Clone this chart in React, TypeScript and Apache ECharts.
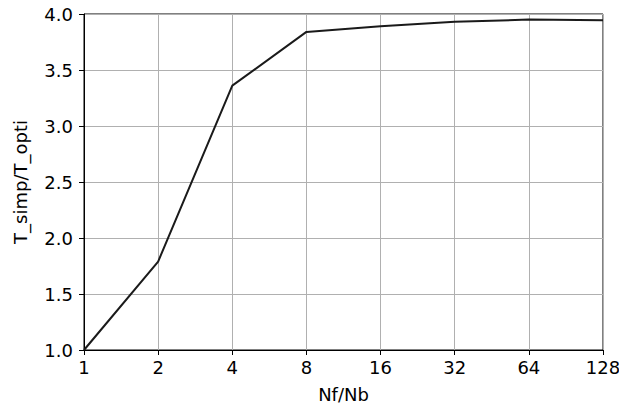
import React, { useEffect, useRef } from "react";
import * as echarts from "echarts";

const nfNb = [1, 2, 4, 8, 16, 32, 64, 128];
const ratio = [1.0, 1.79, 3.36, 3.84, 3.89, 3.93, 3.95, 3.945];
const yTicks = [1.0, 4.0, 0.5]; // min, max, step

export default function App() {
  const ref = useRef<HTMLDivElement>(null);
  useEffect(() => {
    const chart = echarts.init(ref.current!, undefined, { renderer: "svg" });
    const font = "DejaVu Sans";
    const fs = 18;
    chart.setOption({
      animation: false,
      grid: {
        left: 84,
        right: 16,
        top: 14,
        bottom: 58,
        containLabel: false,
        outerBoundsMode: "none",
        show: true,
        borderColor: "#000",
        borderWidth: 1,
        backgroundColor: "transparent",
      },
      xAxis: {
        type: "log",
        logBase: 2,
        min: 1,
        max: 128,
        interval: 1,
        name: "Nf/Nb",
        nameLocation: "middle",
        nameGap: 35,
        nameTextStyle: { fontFamily: font, fontSize: fs, color: "#000" },
        axisLine: { show: true, lineStyle: { color: "#000", width: 1 } },
        axisTick: { show: true, length: 5, lineStyle: { color: "#000" } },
        minorTick: { show: false },
        axisLabel: {
          fontFamily: font,
          fontSize: fs,
          color: "#000",
          margin: 8,
          hideOverlap: false,
          formatter: (v: number) => String(Math.round(v)),
        },
        splitLine: { show: true, lineStyle: { color: "#b0b0b0", width: 1 } },
      },
      yAxis: {
        type: "value",
        min: yTicks[0],
        max: yTicks[1],
        interval: yTicks[2],
        name: "T_simp/T_opti",
        nameLocation: "middle",
        nameGap: 55,
        nameRotate: 90,
        nameTextStyle: { fontFamily: font, fontSize: fs, color: "#000" },
        axisLine: { show: true, lineStyle: { color: "#000", width: 1 } },
        axisTick: { show: true, length: 5, lineStyle: { color: "#000" } },
        axisLabel: {
          fontFamily: font,
          fontSize: fs,
          color: "#000",
          margin: 11,
          formatter: (v: number) => v.toFixed(1),
        },
        splitLine: { show: true, lineStyle: { color: "#b0b0b0", width: 1 } },
      },
      series: [
        {
          type: "line",
          data: nfNb.map((x, i) => [x, ratio[i]]),
          showSymbol: false,
          symbol: "none",
          lineStyle: { color: "#1a1a1a", width: 2 },
        },
      ],
    });
    return () => chart.dispose();
  }, []);
  return <div ref={ref} style={{ width: 619, height: 408, position: "absolute", left: 0, top: 0 }} />;
}
